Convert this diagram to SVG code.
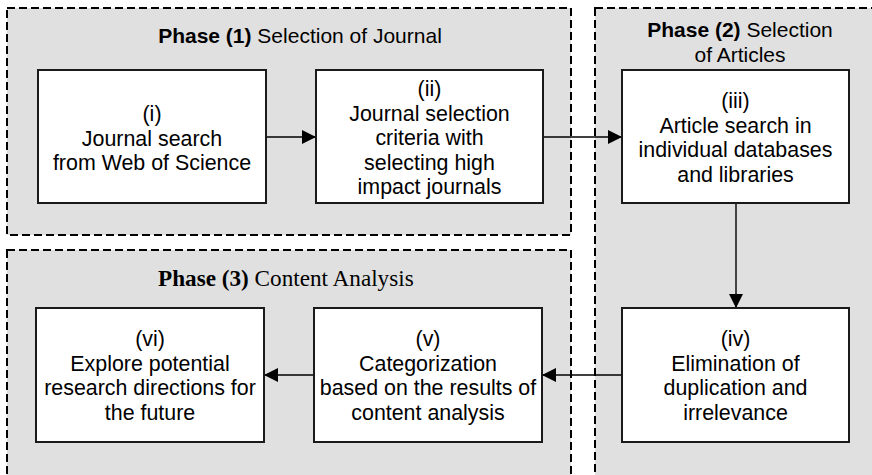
<svg xmlns="http://www.w3.org/2000/svg" width="872" height="475" viewBox="0 0 872 475">
  <style>
    .phase { fill: #e0e0e0; stroke: #000; stroke-width: 2; stroke-dasharray: 8 4; }
    .box { fill: #fff; stroke: #1a1a1a; stroke-width: 2; }
    .t { font-family: "Liberation Sans", Arial, sans-serif; font-size: 21.4px; fill: #000; text-anchor: middle; }
    .h { font-size: 21px; }
    .tt { font-family: "Liberation Serif", "Times New Roman", serif; font-size: 23.2px; fill: #000; }
    .b { font-weight: bold; }
    .conn { fill: none; stroke: #000; stroke-width: 1.4; marker-end: url(#arrow); }
  </style>
  <defs>
    <marker id="arrow" markerUnits="userSpaceOnUse" markerWidth="14" markerHeight="14" refX="14" refY="7" orient="auto">
      <path d="M0,0 L14,7 L0,14 Z" fill="#000"/>
    </marker>
  </defs>

  <rect width="872" height="475" fill="#fff"/>

  <!-- phase containers -->
  <g id="phase1">
    <rect class="phase" x="7" y="8" width="564" height="227"/>
    <text class="t h" x="300" y="43"><tspan class="b">Phase (1)</tspan> Selection of Journal</text>
  </g>
  <g id="phase2">
    <rect class="phase" x="595" y="8" width="300" height="490"/>
    <text class="t h" x="740" y="37"><tspan class="b">Phase (2)</tspan> Selection</text>
    <text class="t h" x="740" y="62">of Articles</text>
  </g>
  <g id="phase3">
    <rect class="phase" x="7" y="250" width="564" height="250"/>
    <text class="tt" x="158" y="286"><tspan class="b">Phase (3)</tspan> Content Analysis</text>
  </g>

  <!-- connectors -->
  <g id="connectors">
    <line class="conn" x1="266" y1="137" x2="316" y2="137"/>
    <line class="conn" x1="543" y1="137" x2="622" y2="137"/>
    <line class="conn" x1="736" y1="203" x2="736" y2="308"/>
    <line class="conn" x1="622" y1="375" x2="542" y2="375"/>
    <line class="conn" x1="314" y1="375" x2="264" y2="375"/>
  </g>

  <!-- steps -->
  <g id="step-i">
    <rect class="box" x="38" y="70" width="228" height="133"/>
    <text class="t" x="152" y="121">(i)</text>
    <text class="t" x="152" y="145.5">Journal search</text>
    <text class="t" x="152" y="170">from Web of Science</text>
  </g>
  <g id="step-ii">
    <rect class="box" x="316" y="70" width="227" height="133"/>
    <text class="t" x="429.5" y="96">(ii)</text>
    <text class="t" x="429.5" y="120.5">Journal selection</text>
    <text class="t" x="429.5" y="145">criteria with</text>
    <text class="t" x="429.5" y="169.5">selecting high</text>
    <text class="t" x="429.5" y="194">impact journals</text>
  </g>
  <g id="step-iii">
    <rect class="box" x="622" y="70" width="227" height="133"/>
    <text class="t" x="735.5" y="108">(iii)</text>
    <text class="t" x="735.5" y="132.5">Article search in</text>
    <text class="t" x="735.5" y="157">individual databases</text>
    <text class="t" x="735.5" y="181.5">and libraries</text>
  </g>
  <g id="step-iv">
    <rect class="box" x="622" y="308" width="227" height="134"/>
    <text class="t" x="735.5" y="346">(iv)</text>
    <text class="t" x="735.5" y="370.5">Elimination of</text>
    <text class="t" x="735.5" y="395">duplication and</text>
    <text class="t" x="735.5" y="419.5">irrelevance</text>
  </g>
  <g id="step-v">
    <rect class="box" x="314" y="308" width="228" height="134"/>
    <text class="t" x="428" y="346">(v)</text>
    <text class="t" x="428" y="370.5">Categorization</text>
    <text class="t" x="428" y="395">based on the results of</text>
    <text class="t" x="428" y="419.5">content analysis</text>
  </g>
  <g id="step-vi">
    <rect class="box" x="36" y="308" width="228" height="134"/>
    <text class="t" x="150" y="346">(vi)</text>
    <text class="t" x="150" y="370.5">Explore potential</text>
    <text class="t" x="150" y="395">research directions for</text>
    <text class="t" x="150" y="419.5">the future</text>
  </g>
</svg>
